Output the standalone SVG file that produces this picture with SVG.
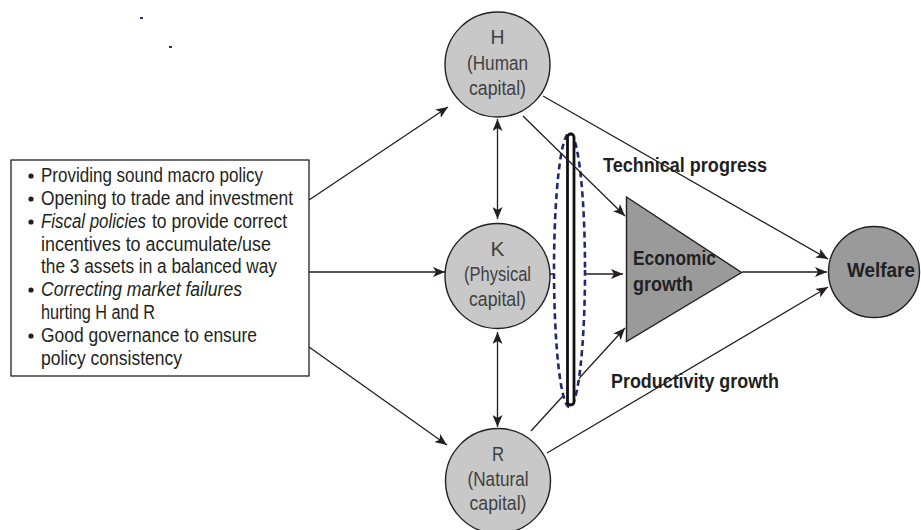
<svg xmlns="http://www.w3.org/2000/svg" width="921" height="530" viewBox="0 0 921 530">
<style>
.conn{stroke:#231f20;stroke-width:1.3;fill:none}
.cap{fill:#c8c8c8;stroke:#231f20;stroke-width:1.4}
.dark{fill:#9a9a9b;stroke:#231f20;stroke-width:1.4}
.ct{font-family:"Liberation Sans",Arial,sans-serif;font-size:20.5px;fill:#3f3f3f;text-anchor:middle}
.bt{font-family:"Liberation Sans",Arial,sans-serif;font-size:19.5px;fill:#231f20}
.lb{font-family:"Liberation Sans",Arial,sans-serif;font-size:19.5px;font-weight:bold;fill:#231f20}
</style>
<defs>
<marker id="ah" viewBox="0 0 12 10" refX="12" refY="5" markerWidth="12" markerHeight="10" markerUnits="userSpaceOnUse" orient="auto-start-reverse">
<path d="M0,0 L12,5 L0,10 L3,5 z" fill="#231f20"/>
</marker>
</defs>
<rect width="921" height="530" fill="#fff"/>
<rect x="140" y="17" width="3" height="2" fill="#2b2f7e"/>
<rect x="169" y="46" width="3" height="2" fill="#2b2f7e"/>

<g id="policy-box">
<rect x="11" y="160" width="298" height="216" fill="#fff" stroke="#231f20" stroke-width="1.3"/>
<g fill="#231f20">
<circle cx="31" cy="176" r="2.6"/>
<circle cx="31" cy="199" r="2.6"/>
<circle cx="31" cy="222" r="2.6"/>
<circle cx="31" cy="290" r="2.6"/>
<circle cx="31" cy="336" r="2.6"/>
</g>
<text class="bt" x="41" y="182" textLength="222" lengthAdjust="spacingAndGlyphs">Providing sound macro policy</text>
<text class="bt" x="41" y="205" textLength="252" lengthAdjust="spacingAndGlyphs">Opening to trade and investment</text>
<text class="bt" x="41" y="228" textLength="105" lengthAdjust="spacingAndGlyphs" font-style="italic">Fiscal policies</text>
<text class="bt" x="152" y="228" textLength="135" lengthAdjust="spacingAndGlyphs">to provide correct</text>
<text class="bt" x="41" y="251" textLength="230" lengthAdjust="spacingAndGlyphs">incentives to accumulate/use</text>
<text class="bt" x="41" y="273" textLength="236" lengthAdjust="spacingAndGlyphs">the 3 assets in a balanced way</text>
<text class="bt" x="41" y="296" textLength="201" lengthAdjust="spacingAndGlyphs" font-style="italic">Correcting market failures</text>
<text class="bt" x="41" y="319" textLength="114" lengthAdjust="spacingAndGlyphs">hurting H and R</text>
<text class="bt" x="41" y="342" textLength="216" lengthAdjust="spacingAndGlyphs">Good governance to ensure</text>
<text class="bt" x="41" y="365" textLength="141" lengthAdjust="spacingAndGlyphs">policy consistency</text>
</g>

<g id="connectors-back">
<line class="conn" x1="550" y1="274" x2="623" y2="274" marker-end="url(#ah)"/>
<line class="conn" x1="531" y1="431" x2="625" y2="328" marker-end="url(#ah)"/>
</g>

<g id="ellipse-marker">
<ellipse cx="569.5" cy="270" rx="15.5" ry="137" fill="#fff" stroke="#1f2a6e" stroke-width="2.6" stroke-dasharray="6,4"/>
<rect x="567.5" y="134" width="6.5" height="271" rx="3.2" fill="#fff" stroke="#111" stroke-width="2.8"/>
</g>

<g id="connectors">
<line class="conn" x1="309" y1="200" x2="448" y2="107" marker-end="url(#ah)"/>
<line class="conn" x1="309" y1="272" x2="445" y2="272" marker-end="url(#ah)"/>
<line class="conn" x1="309" y1="347" x2="447" y2="445" marker-end="url(#ah)"/>
<line class="conn" x1="497.5" y1="119" x2="497.5" y2="219" marker-start="url(#ah)" marker-end="url(#ah)"/>
<line class="conn" x1="497.5" y1="332" x2="497.5" y2="427" marker-start="url(#ah)" marker-end="url(#ah)"/>
<line class="conn" x1="523" y1="116" x2="625" y2="216" marker-end="url(#ah)"/>
<line class="conn" x1="543" y1="96" x2="828" y2="259" marker-end="url(#ah)"/>
<line class="conn" x1="742" y1="272" x2="827" y2="272" marker-end="url(#ah)"/>
<line class="conn" x1="547" y1="453" x2="828" y2="287" marker-end="url(#ah)"/>
</g>

<g id="H">
<circle class="cap" cx="497.5" cy="64.5" r="52.5"/>
<text class="ct" x="497.5" y="44" textLength="14" lengthAdjust="spacingAndGlyphs">H</text>
<text class="ct" x="497.5" y="70" textLength="61" lengthAdjust="spacingAndGlyphs">(Human</text>
<text class="ct" x="497.5" y="95" textLength="57" lengthAdjust="spacingAndGlyphs">capital)</text>
</g>

<g id="K">
<circle class="cap" cx="497.5" cy="276" r="52.5"/>
<text class="ct" x="497.5" y="256" textLength="14" lengthAdjust="spacingAndGlyphs">K</text>
<text class="ct" x="497.5" y="281" textLength="67" lengthAdjust="spacingAndGlyphs">(Physical</text>
<text class="ct" x="497.5" y="306" textLength="57" lengthAdjust="spacingAndGlyphs">capital)</text>
</g>

<g id="R">
<circle class="cap" cx="498" cy="481" r="52.5"/>
<text class="ct" x="498" y="461" textLength="12" lengthAdjust="spacingAndGlyphs">R</text>
<text class="ct" x="498" y="486" textLength="61" lengthAdjust="spacingAndGlyphs">(Natural</text>
<text class="ct" x="498" y="510" textLength="57" lengthAdjust="spacingAndGlyphs">capital)</text>
</g>

<g id="economic-growth">
<polygon class="dark" points="626.5,197 741.5,272.5 626.5,341.5"/>
<text class="lb" x="633" y="265" textLength="83" lengthAdjust="spacingAndGlyphs">Economic</text>
<text class="lb" x="633" y="291" textLength="60" lengthAdjust="spacingAndGlyphs">growth</text>
</g>

<g id="welfare">
<circle class="dark" cx="874" cy="272" r="45.5"/>
<text class="lb" x="881" y="277" text-anchor="middle" textLength="68" lengthAdjust="spacingAndGlyphs">Welfare</text>
</g>

<g id="labels">
<text class="lb" x="603" y="172" textLength="164" lengthAdjust="spacingAndGlyphs">Technical progress</text>
<text class="lb" x="611" y="388" textLength="168" lengthAdjust="spacingAndGlyphs">Productivity growth</text>
</g>
</svg>
